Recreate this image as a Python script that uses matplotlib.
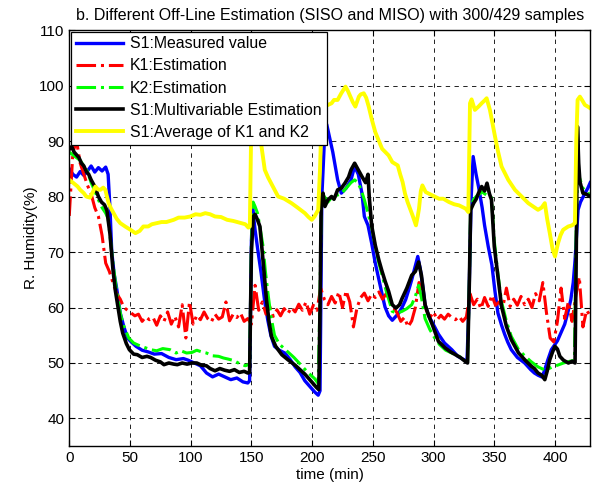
import numpy as np
import matplotlib.pyplot as plt

# S1 measured humidity (time in min, value in %)
t_meas = [0, 3, 6, 9, 12, 15, 18, 21, 24, 27, 30, 32, 33.5, 35, 37, 39, 42, 45, 48, 51,
          55, 60, 65, 70, 76, 82, 88, 94, 98, 103, 108, 113, 118, 123, 128, 133, 138, 143, 147, 148.5,
          150, 151, 153, 155.5, 158, 161, 163.5, 166, 169, 173, 177.5, 182, 186, 190, 194, 198, 202, 205, 206.5, 208,
          210, 212, 214, 217, 221, 224, 228, 232, 235, 238, 241, 243, 246, 249, 252, 255, 258, 260, 263, 266,
          271, 274, 277, 280, 282, 285, 287, 289, 291, 293, 296, 299, 304, 309, 315, 320, 325, 327.5, 329, 331,
          332.6, 335, 337, 340, 342, 345, 348, 350.5, 353, 356, 358.5, 361, 364, 369, 375, 380, 383, 386, 389, 391,
          394, 397, 402, 405, 408, 411, 413, 415, 416.5, 418, 419, 421, 424, 427, 429]
s1_meas = [85, 84, 83.5, 84.5, 83.8, 84.6, 85.5, 84.4, 85.2, 84.6, 85.3, 84, 78, 70, 66, 63.5, 59, 56.5, 54.5, 53.8,
           53, 52.3, 52, 51.6, 51.7, 51, 50.6, 50.8, 50.5, 50, 49.5, 48.2, 47.5, 48, 47.5, 47, 47.3, 46.6, 46.4, 46.8,
           72, 78, 74, 70, 66.2, 61, 57.7, 55, 53, 52.3, 51.8, 50.6, 49.3, 48.3, 46.8, 45.8, 44.8, 44.2, 45, 80,
           89.6, 93, 91, 88, 83, 80.6, 81.5, 83, 85.4, 84, 80.6, 76.4, 74.8, 71.6, 68, 65, 62, 60.1, 58.5, 57.7,
           58.9, 60, 61.4, 63.5, 65, 67.5, 69.2, 67, 64, 60.5, 58.5, 57.3, 55.2, 53.6, 52.4, 51.2, 50.6, 50.1, 60, 80,
           87.2, 84, 81.8, 78, 74.8, 71, 67.7, 63, 59, 56.8, 55.2, 53.8, 52.4, 51, 50, 48.8, 48.2, 47.8, 47.5, 48.4,
           50.5, 52.4, 54, 55.5, 57, 59.5, 61.4, 64.5, 68.5, 74, 77.6, 79, 80.3, 81.5, 82.5]

# K1 estimation, sampled every 3 min
t_k1 = np.arange(0, 430, 3)
k1_est = [76.5, 88, 90, 86, 84, 82, 80.5, 78, 76.4, 73,
          68, 66.5, 64.5, 62.5, 61.5, 60, 59.5, 59, 58.5, 58.8,
          57.5, 58.3, 57.8, 58.2, 56.8, 58.5, 57.5, 59.2, 57, 58.4,
          56.5, 60.5, 54.5, 61, 57, 58.6, 57.8, 59.2, 58, 57.4,
          58.8, 57.9, 58.3, 61, 57.6, 58.8, 58.2, 59, 57.5, 58,
          57, 64, 59.5, 61, 58.8, 60.2, 58.4, 59.6, 58.5, 59.8,
          58.9, 60, 59.2, 60.6, 59.5, 61, 58.8, 60.4, 59.5, 63.5,
          61.5, 60.5, 62, 60.8, 62.8, 60, 63, 61, 56.5, 60,
          61.8, 62.6, 61.2, 62.4, 61.8, 62.8, 61.5, 62.5, 61.2, 60,
          59, 57.5, 58.2, 56.5, 57.6, 60, 64.5, 62.5, 59.5, 58.2,
          59.2, 57.8, 58.6, 57.9, 58.8, 58.2, 57.8, 58.4, 57.5, 58.3,
          62.5, 60.5, 61.5, 59.8, 61.8, 60.2, 62.2, 60.4, 61, 60,
          63.5, 60.2, 61.5, 60.4, 62, 60.5, 61.5, 60, 62.5, 61.2,
          64.5, 59, 54.5, 53.8, 57.5, 63.5, 58, 61, 57.5, 62,
          65.5, 56.5, 59.5, 58.5]

# K2 estimation
t_k2 = [0, 3, 6, 9, 12, 15, 18, 21, 24, 27, 30, 32, 34, 36, 38, 40, 42.5, 45, 49, 53,
        57, 62, 67, 72, 77, 83, 88, 92, 96.6, 101, 105, 109, 113, 118, 123, 127, 131, 136, 140, 145,
        148.5, 150, 151.4, 153, 155, 157, 159.6, 161.5, 163.6, 166, 169, 173, 180, 185, 191, 196, 202, 205, 206.5, 207.5,
        210, 213, 216, 220, 224, 228, 232, 235, 238, 241, 243, 246, 249, 252, 255, 258, 261, 264, 266, 270,
        274, 278, 282, 285, 287.7, 290, 293, 297, 301, 305, 310, 315, 320, 326, 328, 329.5, 330.5, 333, 336, 340,
        344, 347.7, 350, 353, 356, 360, 364, 370, 375, 380, 386, 391, 395, 398, 402, 407, 412, 416, 417.5, 418.5,
        420, 423, 427, 429]
k2_est = [88, 87.5, 87, 86.5, 85.5, 84.5, 82.5, 81, 79.4, 78, 77, 76, 72, 68, 64.5, 61.4, 58.5, 56.6, 54.5, 53.6,
          53.2, 52.8, 52.4, 52.2, 52.6, 52.4, 51.8, 52.2, 51.8, 51.9, 52.3, 52, 51.8, 51.3, 51.2, 50.9, 50.7, 50.4, 49.9, 49.5,
          49.8, 72, 79, 78.2, 77, 74.5, 71, 66.5, 62.6, 58.5, 55, 53.4, 52, 51, 49.6, 48.4, 47.2, 46.3, 62, 79.5,
          80, 79, 79.8, 80.2, 80.5, 81.5, 82.5, 83, 82.4, 80.8, 79.4, 77, 74.5, 71, 68, 65.5, 63, 60.8, 59.3, 59,
          59.3, 59.8, 60.5, 62, 64, 61.8, 58, 56, 54.5, 53.3, 52.3, 51.8, 51.3, 50.6, 50.3, 65, 78, 79.5, 80.2, 80.8,
          80.2, 79.8, 72, 66, 61, 57.5, 54.8, 52.4, 51.3, 50.3, 49.3, 48.8, 49, 49.3, 49.6, 50, 50.3, 50.5, 75, 84,
          83.5, 81.5, 80.6, 80.4]

# S1 multivariable estimation
t_miso = [0, 2, 4, 6, 8, 10, 12, 14, 16, 18, 21, 24, 26.5, 29, 31, 33.5, 36, 38, 40, 42,
          44, 47, 49.5, 53, 56, 60, 64, 67, 71, 75, 78, 82, 86, 89, 93, 97, 101, 105, 109, 113,
          116, 120, 124, 128, 132, 136, 140, 144, 147, 148.5, 150, 151.5, 153, 155, 157, 159.5, 162.4, 164.5, 166.5, 170,
          175, 180, 186, 190, 194, 198, 203.6, 205.5, 206.5, 207.5, 209, 210.5, 213, 216, 218, 221, 224, 227, 230, 232,
          235, 238, 241, 244, 246, 247, 249, 252, 255, 257.6, 260, 263, 266, 269, 272, 274, 278, 282, 285, 287.7,
          290, 293, 296, 299, 304, 309.6, 314, 318, 322, 326, 328, 329.5, 330.5, 333, 335, 337, 339.6, 342, 344, 346,
          347.7, 350, 353, 356, 360, 364, 367, 370, 375, 380.6, 383, 386, 389, 391.6, 393.5, 395.7, 398, 400, 402, 404,
          407, 411, 414, 416.5, 417.5, 418.5, 419.5, 420.5, 423, 426, 429]
s1_miso = [88.5, 89, 88, 87.5, 87, 86, 85.5, 84.5, 84, 83, 81.8, 80, 79, 78.5, 77.5, 73.3, 66.8, 63, 60.2, 57.5,
           55.4, 53.5, 52.4, 51.6, 51.5, 51, 51.2, 51, 50.5, 50.2, 49.7, 50, 49.8, 49.7, 50, 49.8, 50, 50, 49.6, 49.5,
           49, 48.6, 49, 48.7, 48.5, 48.8, 48.3, 48.5, 48.2, 48.3, 70, 76.4, 76.8, 75.8, 74.6, 68.6, 61.4, 57.5, 54.8, 53,
           51.5, 50.6, 49.6, 48.8, 48, 47, 45.6, 45.2, 60, 79.4, 80.6, 78.2, 79.4, 80, 79.5, 81.2, 81.5, 82.4, 83.5, 84.8,
           86, 84.8, 83.6, 82.5, 84, 80, 74.8, 71.2, 68.5, 66.5, 64.8, 62.9, 60.5, 59.9, 60.5, 61.6, 63.5, 65.8, 66.5, 68.2,
           65.8, 60.5, 58.5, 56.9, 53.9, 52.7, 52, 51.5, 51, 50.3, 50, 65, 77.6, 78.8, 79.5, 80.6, 81.8, 81, 82.4, 80.5,
           79.4, 71, 65.6, 60.2, 56.6, 54.2, 53, 51.8, 50.6, 49.4, 49, 48.2, 47.8, 47, 48.5, 50.6, 52, 53, 52.5, 51.2,
           50.5, 50, 50.3, 50, 70, 92.6, 86, 82.7, 80.6, 80.4, 80]

# S1 average of K1 and K2
t_avg = [0, 3, 6.9, 9, 12, 14, 17, 19, 21.5, 23.5, 25.6, 28, 29.7, 32.4, 34.5, 36.5, 39, 42, 46, 50.4,
         54.5, 58, 61, 65, 68, 72, 76, 80, 86, 90, 95, 99.6, 104, 108, 112, 116, 120, 125, 130, 135,
         140, 145, 147.5, 148.7, 150, 152, 154, 156, 158.3, 161, 163.8, 166.7, 172, 177, 183, 188, 194, 197, 199.7, 202,
         205, 206.5, 208, 210, 213, 216, 218, 221, 224, 227.5, 229.5, 231.5, 233.5, 235.6, 238.5, 240, 242.5, 244.5, 246.6, 249,
         252, 255, 257.6, 263, 266, 270.5, 272.5, 274.5, 276.5, 278.6, 282.7, 285.5, 287, 288, 289.5, 290.8, 293.5, 299, 304.5, 308,
         312.7, 317, 321, 326.5, 328.6, 330, 331.3, 334, 337, 339.6, 342, 343.7, 346.4, 350.6, 353, 356, 361.5, 367, 372.5, 378,
         382, 386, 389, 391.6, 393.5, 395.7, 398, 400, 402.5, 404.5, 406.7, 410.9, 414, 416.4, 417.5, 418.6, 420.5, 422.5, 424.6, 427,
         429]
s1_avg = [83, 82.5, 81.8, 81.2, 80.6, 80, 79.8, 80.6, 81.8, 81.3, 81.2, 81.6, 81.2, 78.8, 77.8, 77, 76, 75.2, 74.6, 74,
          73.4, 73.8, 74.6, 74.6, 75, 75.2, 75.4, 75.4, 75.8, 76.2, 76.2, 76.4, 76.8, 76.7, 77, 76.8, 76.4, 76.3, 75.8, 75.6,
          75.3, 75, 74.4, 74.6, 95, 101, 98, 93, 89, 84.8, 83.4, 82.2, 80, 79.6, 78.8, 78, 77, 76.3, 75.8, 76.4,
          77.6, 85, 96, 96.2, 96.5, 96.8, 97.4, 97.4, 98.6, 99.8, 99, 98, 97, 96.2, 98, 98.4, 98.6, 97.8, 96.2, 94,
          91.6, 90, 88.6, 87.4, 86.2, 85.6, 84, 82.6, 80.5, 79, 76.6, 74.8, 76.5, 77.8, 81, 82, 80.8, 80.2, 79.6, 79.6,
          79, 78.6, 78.4, 77.8, 77.2, 96.8, 97.5, 95.6, 96.2, 96.8, 97.3, 97.7, 95.6, 90.8, 88.2, 85.4, 83, 81.2, 80, 78.8,
          78.2, 77.6, 78, 78.8, 76, 73.4, 70.5, 69.2, 71.6, 73, 74, 74.6, 74.8, 75.2, 90, 97.4, 98, 97.3, 96.5, 96.2,
          95.9]

x_ticks = [0, 50, 100, 150, 200, 250, 300, 350, 400]
y_ticks = [40, 50, 60, 70, 80, 90, 100, 110]


def main():
    plt.rcParams['font.family'] = ['Liberation Sans', 'DejaVu Sans']
    plt.rcParams['font.size'] = 11

    fig = plt.figure(figsize=(5.92, 4.84), dpi=100)
    ax = fig.add_axes([0.117, 0.078, 0.880, 0.860])

    ax.plot(t_meas, s1_meas, color='#0000ff', lw=2.4, label='S1:Measured value')
    ax.plot(t_k1, k1_est, color='#ff0000', lw=2.2, ls='-.', label='K1:Estimation')
    ax.plot(t_k2, k2_est, color='#00ff00', lw=2.2, ls='-.', label='K2:Estimation')
    ax.plot(t_miso, s1_miso, color='black', lw=2.6, label='S1:Multivariable Estimation')
    ax.plot(t_avg, s1_avg, color='#ffff00', lw=2.8, label='S1:Average of K1 and K2')

    ax.set_xlim(0, 429)
    ax.set_ylim(35, 110)
    ax.set_xticks(x_ticks)
    ax.set_yticks(y_ticks)
    ax.tick_params(direction='in', top=True, right=True, length=4, width=0.8)
    ax.grid(True, color='#222222', ls=(0, (4.5, 4.5)), lw=0.7)
    ax.set_axisbelow(True)
    for sp in ax.spines.values():
        sp.set_linewidth(1.0)

    ax.set_title('b. Different Off-Line Estimation (SISO and MISO) with 300/429 samples',
                 fontsize=11.5, pad=7)
    ax.set_xlabel('time (min)', labelpad=2)
    ax.set_ylabel('R. Humidity(%)', labelpad=1)

    leg = ax.legend(loc='upper left', borderaxespad=0.1, handlelength=3.0,
                    handletextpad=0.45, labelspacing=0.45, fancybox=False,
                    framealpha=1, edgecolor='black', borderpad=0.3, fontsize=11.4)
    leg.get_frame().set_linewidth(0.9)

    fig.savefig('out.png', dpi=100)


if __name__ == '__main__':
    main()
